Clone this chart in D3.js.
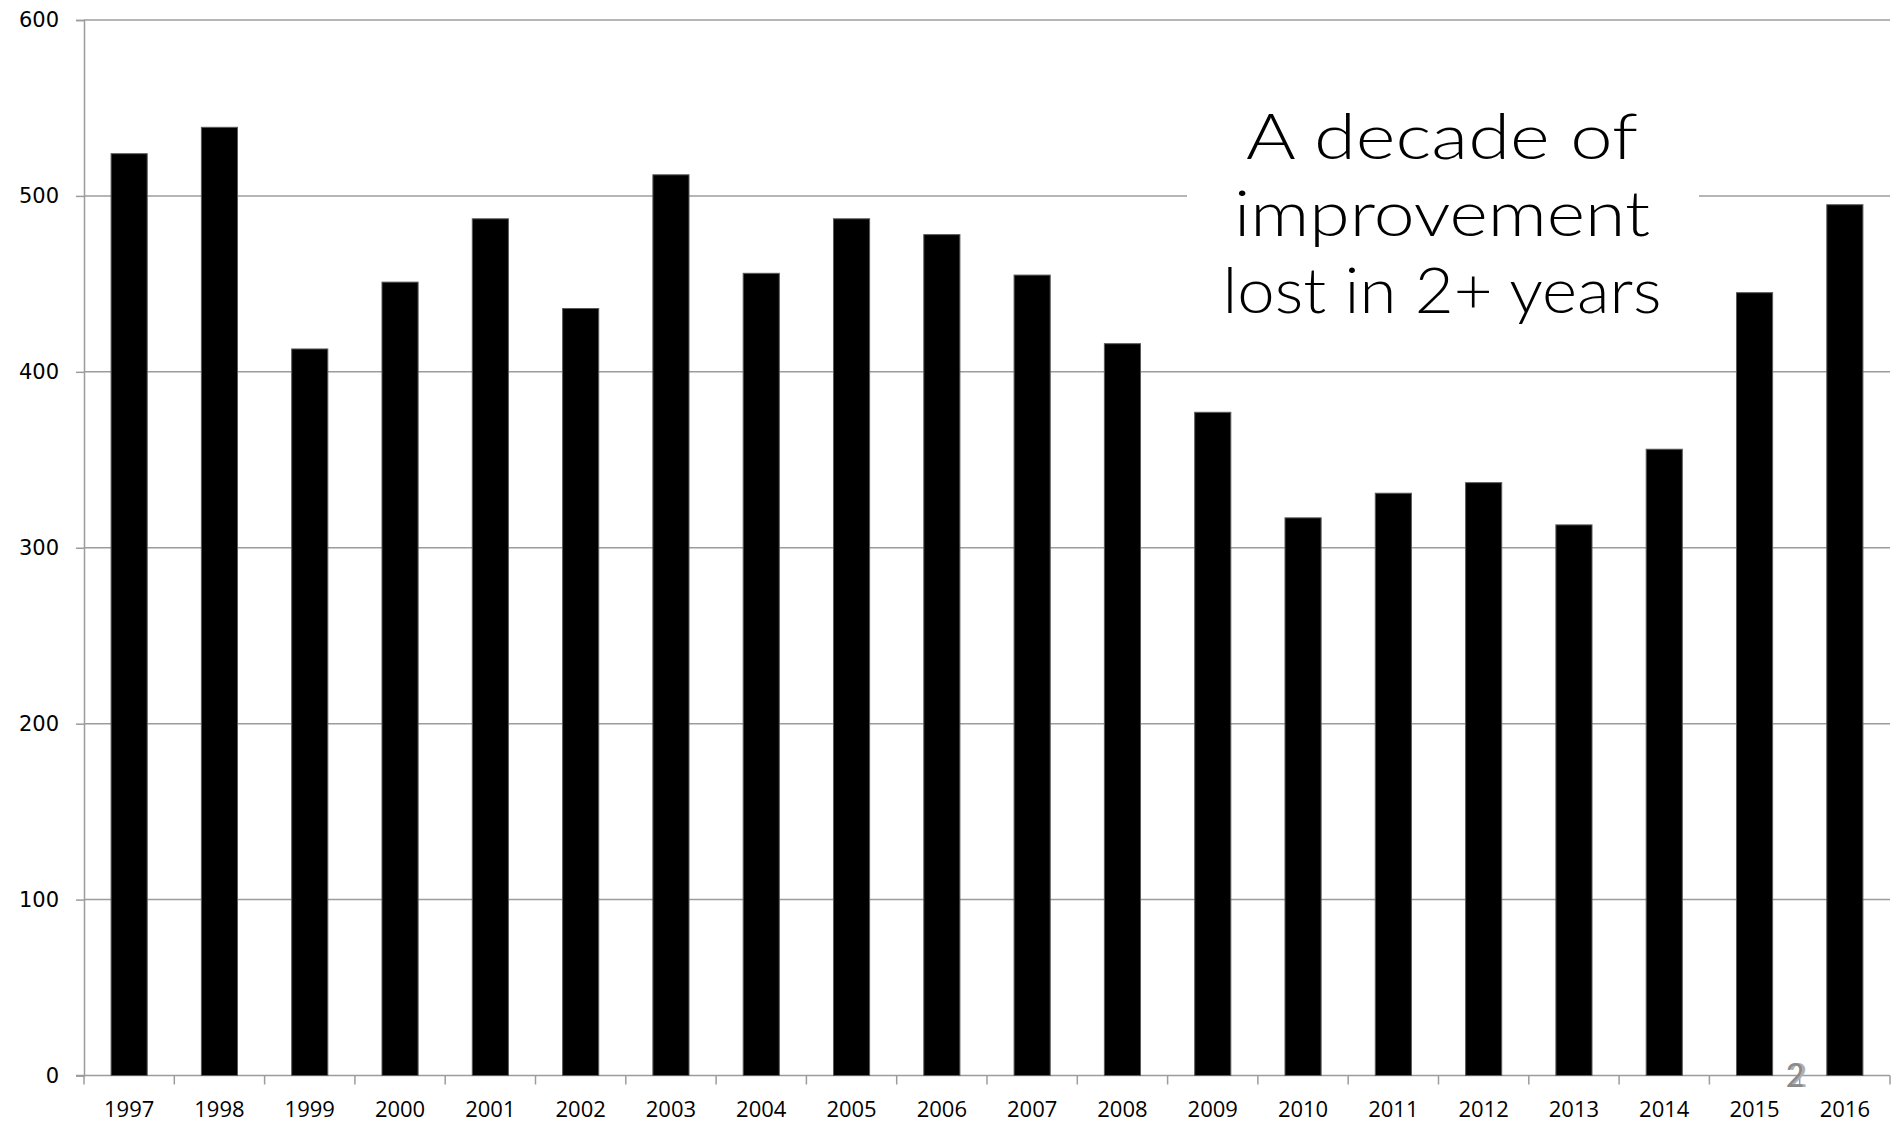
<!DOCTYPE html>
<html>
<head>
<meta charset="utf-8">
<script src="https://cdn.jsdelivr.net/npm/d3@7"></script>
<style>
  html, body { margin: 0; padding: 0; background: #fff; }
  svg { display: block; }
</style>
</head>
<body>
<svg id="chart" width="1895" height="1123"></svg>
<script>
// Yearly totals, 1997–2016
const years = ["1997","1998","1999","2000","2001","2002","2003","2004","2005","2006",
               "2007","2008","2009","2010","2011","2012","2013","2014","2015","2016"];
const totals = [524, 539, 413, 451, 487, 436, 512, 456, 487, 478,
                455, 416, 377, 317, 331, 337, 313, 356, 445, 495];
const yTicks = [0, 100, 200, 300, 400, 500, 600];
const noteLines = ["A decade of", "improvement", "lost in 2+ years"];
const noteWidths = [392, 416, 439];
const slideNumber = "2";

const svg = d3.select("#chart");
const W = 1895, H = 1123;
const margin = { top: 20, right: 5, bottom: 47.5, left: 84 };
const x0 = margin.left, x1 = W - margin.right;
const yBase = H - margin.bottom;

const x = d3.scaleBand()
  .domain(years)
  .range([x0, x1])
  .paddingInner(0.6)
  .paddingOuter(0.3);

const y = d3.scaleLinear()
  .domain([0, 600])
  .range([yBase, margin.top]);

const gridColor = "#9c9c9c";

// horizontal gridlines
svg.append("g")
  .selectAll("line")
  .data(yTicks.filter(d => d > 0))
  .join("line")
  .attr("x1", x0).attr("x2", x1)
  .attr("y1", d => y(d)).attr("y2", d => y(d))
  .attr("stroke", gridColor)
  .attr("stroke-width", 1.5);

// y axis with outward ticks
const yAxis = svg.append("g")
  .attr("transform", `translate(${x0},0)`)
  .call(d3.axisLeft(y).tickValues(yTicks).tickSize(8).tickPadding(17).tickFormat(d3.format("d")));
yAxis.select(".domain").attr("stroke", gridColor).attr("stroke-width", 1.5);
yAxis.selectAll(".tick line").attr("stroke", gridColor).attr("stroke-width", 1.5);
yAxis.selectAll(".tick text")
  .attr("fill", "#000")
  .style("font-family", "'DejaVu Sans', sans-serif")
  .style("font-size", "21px");

// x axis baseline and category boundary ticks
const halfGap = (x.step() - x.bandwidth()) / 2;
const boundaries = years.map(d => x(d) - halfGap).concat([x(years[years.length - 1]) + x.bandwidth() + halfGap]);
const xg = svg.append("g");
xg.append("line")
  .attr("x1", x0 - 8).attr("x2", x1)
  .attr("y1", yBase).attr("y2", yBase)
  .attr("stroke", gridColor).attr("stroke-width", 1.5);
xg.selectAll("line.tk")
  .data(boundaries)
  .join("line")
  .attr("class", "tk")
  .attr("x1", d => d).attr("x2", d => d)
  .attr("y1", yBase).attr("y2", yBase + 9)
  .attr("stroke", gridColor).attr("stroke-width", 1.5);
xg.selectAll("text")
  .data(years)
  .join("text")
  .attr("x", d => x(d) + x.bandwidth() / 2)
  .attr("y", yBase + 41)
  .attr("text-anchor", "middle")
  .style("font-family", "'Open Sans', sans-serif")
  .style("font-size", "22px")
  .attr("fill", "#000")
  .text(d => d);

// white panel behind the note
svg.append("rect")
  .attr("x", 1187).attr("y", 95)
  .attr("width", 512).attr("height", 240)
  .attr("fill", "#fff");

// bars
svg.append("g")
  .selectAll("rect")
  .data(years.map((yr, i) => ({ yr, v: totals[i] })))
  .join("rect")
  .attr("x", d => x(d.yr))
  .attr("y", d => y(d.v))
  .attr("width", x.bandwidth())
  .attr("height", d => yBase - y(d.v))
  .attr("fill", "#000")
  .attr("stroke", "#5a5a5a")
  .attr("stroke-width", 1);

// note text
const noteCx = 1442;
const baselines = [159, 236, 313];
svg.append("g")
  .selectAll("text")
  .data(noteLines)
  .join("text")
  .attr("x", noteCx)
  .attr("y", (d, i) => baselines[i])
  .attr("text-anchor", "middle")
  .attr("textLength", (d, i) => noteWidths[i])
  .attr("lengthAdjust", "spacingAndGlyphs")
  .style("font-family", "Lato, 'Open Sans', sans-serif")
  .style("font-weight", 300)
  .style("font-size", "64px")
  .attr("fill", "#000")
  .text(d => d);

// slide number (with its faint offset shadow)
svg.append("text")
  .attr("x", 1798)
  .attr("y", 1087)
  .attr("text-anchor", "middle")
  .style("font-family", "Lato, sans-serif")
  .style("font-size", "32px")
  .attr("fill", "#b0b0b0")
  .text(slideNumber);
svg.append("text")
  .attr("x", 1795)
  .attr("y", 1087)
  .attr("text-anchor", "middle")
  .style("font-family", "Lato, sans-serif")
  .style("font-size", "32px")
  .attr("fill", "#8a8a8a")
  .text(slideNumber);
</script>
</body>
</html>
